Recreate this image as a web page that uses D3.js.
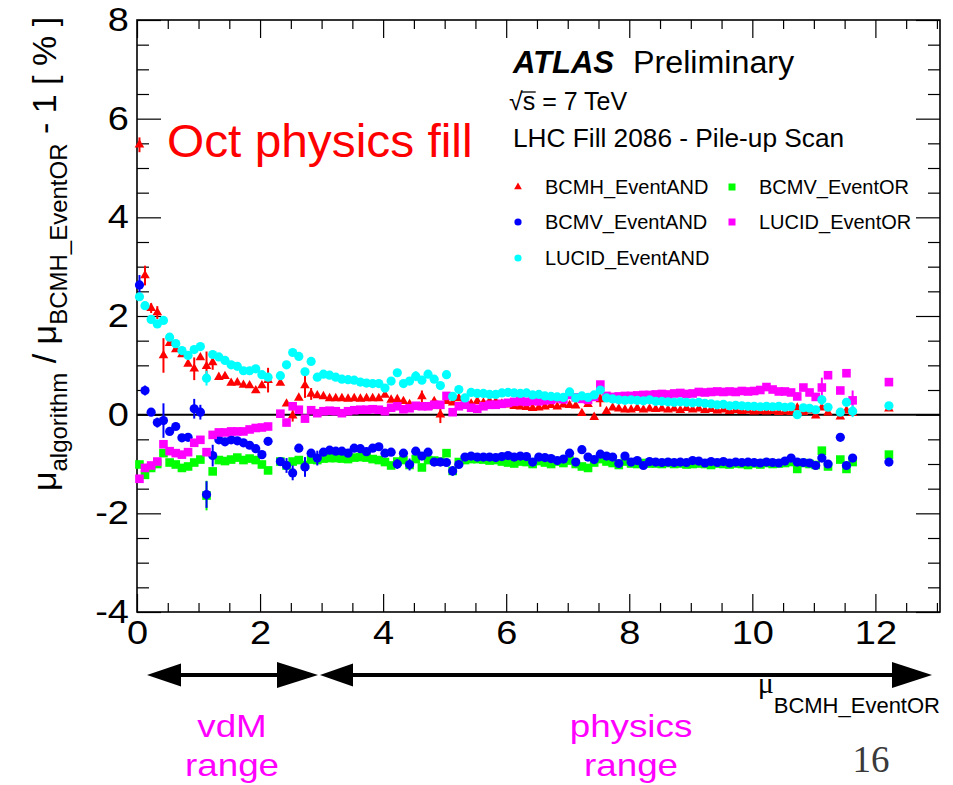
<!DOCTYPE html>
<html><head><meta charset="utf-8">
<script src="https://cdn.jsdelivr.net/npm/d3@7"></script>
<style>
body{margin:0;background:#fff}
svg{display:block}
text{font-family:"Liberation Sans",Arial,Helvetica,sans-serif}
</style>
</head><body>
<svg id="chart" width="953" height="785"></svg>
<script>
// ---------------- data ----------------
const muValues = [
 0.04,0.13,0.23,0.33,0.43,0.53,0.63,0.73,0.83,0.93,1.03,1.13,1.23,1.33,1.43,1.53,1.63,1.73,1.83,1.93,2.03,2.13,
 2.33,2.43,2.53,2.63,2.73,2.83,2.93,3.03,3.13,3.23,
 3.33,3.43,3.53,3.63,3.73,3.83,3.93,4.03,4.13,4.23,
 4.33,4.43,4.53,4.63,4.73,4.83,4.93,5.03,5.13,5.23,
 5.33,5.43,5.53,5.63,5.73,5.83,5.93,6.03,6.13,6.23,
 6.33,6.43,6.53,6.63,6.73,6.83,6.93,7.03,7.13,7.23,
 7.33,7.43,7.53,7.63,7.73,7.83,7.93,8.03,8.13,8.23,
 8.33,8.43,8.53,8.63,8.73,8.83,8.93,9.03,9.13,9.23,
 9.33,9.43,9.53,9.63,9.73,9.83,9.93,10.03,10.13,10.23,
 10.33,10.43,10.53,10.63,10.73,10.83,10.93,11.03,11.13,11.23,
 11.43,11.53,11.63,12.22
];
const bcmhEventAND = [
 5.47,2.82,2.16,2.07,1.20,1.45,1.32,1.22,1.03,0.93,1.16,0.98,1.06,0.76,0.78,0.64,0.65,0.60,0.59,0.49,0.59,0.70,
 0.64,0.22,-0.02,0.34,0.59,0.42,0.39,0.37,0.33,0.33,
 0.33,0.32,0.33,0.32,0.33,0.33,0.33,0.40,0.30,0.31,
 0.27,0.21,0.15,0.37,0.15,0.27,0.00,0.27,0.24,0.33,
 0.22,0.22,0.27,0.24,0.27,0.26,0.22,0.20,0.17,0.16,
 0.15,0.13,0.14,0.16,0.19,0.16,0.20,0.19,0.18,0.03,
 0.21,-0.05,0.31,0.07,0.14,0.12,0.10,0.10,0.13,0.10,
 0.12,0.11,0.12,0.10,0.12,0.09,0.13,0.10,0.12,0.09,
 0.11,0.08,0.10,0.07,0.09,0.07,0.08,0.06,0.07,0.06,
 0.07,0.05,0.06,0.05,0.14,0.05,0.08,-0.02,0.14,0.04,
 -0.04,0.08,0.03,0.12
];
const bcmvEventAND = [
 2.63,0.49,0.05,-0.16,-0.12,-0.34,-0.24,-0.47,-0.46,0.12,0.05,-1.62,-0.83,-0.51,-0.55,-0.51,-0.53,-0.57,-0.62,-0.69,-0.81,-0.54,
 -0.95,-1.03,-1.18,-0.68,-1.06,-0.78,-0.88,-0.76,-0.72,-0.74,
 -0.74,-0.78,-0.68,-0.69,-0.75,-0.68,-0.65,-0.78,-0.76,-1.00,
 -0.78,-1.01,-0.74,-0.84,-0.76,-0.96,-0.96,-0.97,-1.14,-1.01,
 -0.86,-0.84,-0.86,-0.86,-0.86,-0.87,-0.85,-0.83,-0.86,-0.84,
 -0.85,-0.96,-0.86,-0.87,-0.89,-0.93,-0.90,-0.78,-0.96,-0.71,
 -0.86,-0.91,-0.80,-0.84,-0.86,-0.99,-0.84,-0.96,-0.93,-1.03,
 -0.95,-0.96,-0.97,-0.96,-0.97,-0.96,-0.97,-0.93,-0.94,-0.98,
 -0.95,-0.97,-0.95,-0.98,-0.96,-0.97,-0.96,-0.97,-0.98,-0.96,
 -0.97,-0.98,-0.94,-0.88,-0.96,-0.97,-0.98,-1.03,-0.88,-1.00,
 -0.46,-1.03,-0.88,-0.96
];
const lucidEventAND = [
 2.39,2.21,1.93,1.84,1.91,1.57,1.44,1.30,1.20,1.32,1.38,0.74,1.22,1.17,1.10,1.01,0.98,0.89,0.89,0.93,0.81,0.76,
 0.79,1.01,1.26,1.18,0.87,1.08,0.76,0.82,0.80,0.76,
 0.72,0.71,0.70,0.66,0.64,0.63,0.63,0.54,0.68,0.85,
 0.63,0.68,0.78,0.70,0.82,0.72,0.59,0.81,0.37,0.51,
 0.34,0.45,0.43,0.43,0.41,0.41,0.44,0.45,0.44,0.43,
 0.44,0.40,0.41,0.38,0.37,0.36,0.35,0.46,0.34,0.38,
 0.35,0.40,0.50,0.34,0.32,0.30,0.29,0.30,0.29,0.28,
 0.30,0.27,0.27,0.26,0.25,0.26,0.25,0.24,0.25,0.23,
 0.22,0.20,0.21,0.18,0.19,0.18,0.17,0.17,0.16,0.17,
 0.16,0.17,0.15,0.16,0.00,0.14,0.13,0.10,0.30,0.15,
 0.05,0.25,0.07,0.18
];
const bcmvEventOR = [
 -1.01,-1.22,-1.08,-1.00,-0.78,-0.97,-1.01,-1.08,-1.05,-0.97,-0.91,-1.64,-1.15,-0.92,-0.94,-0.91,-0.87,-0.92,-0.89,-0.92,-1.01,-1.13,
 -0.95,-1.03,-0.95,-0.92,-1.02,-0.91,-0.92,-0.89,-0.88,-0.88,
 -0.89,-0.90,-0.87,-0.86,-0.87,-0.90,-0.92,-0.96,-1.03,-0.95,
 -0.92,-1.02,-0.90,-1.07,-0.92,-0.93,-0.95,-0.78,-1.14,-0.96,
 -0.92,-0.90,-0.90,-0.91,-0.93,-0.92,-0.95,-0.97,-0.99,-0.95,
 -0.96,-1.00,-0.94,-0.97,-1.00,-0.95,-0.98,-0.93,-1.00,-1.05,
 -1.08,-0.97,-0.90,-0.95,-0.98,-1.02,-0.95,-0.99,-1.00,-0.98,
 -0.99,-0.99,-1.00,-0.98,-1.00,-0.99,-1.01,-1.00,-0.99,-1.00,
 -1.02,-0.99,-1.00,-1.01,-0.99,-1.00,-1.02,-0.99,-1.01,-0.98,
 -1.00,-0.99,-0.98,-0.96,-1.10,-0.98,-1.00,-1.02,-0.73,-1.05,
 -0.91,-1.10,-0.96,-0.81
];
const lucidEventOR = [
 -1.30,-1.08,-1.03,-0.95,-0.60,-0.74,-0.78,-0.81,-0.76,-0.57,-0.51,-0.76,-0.41,-0.36,-0.36,-0.34,-0.34,-0.34,-0.30,-0.27,-0.26,-0.24,
 0.02,-0.16,0.17,0.10,-0.08,0.09,0.03,0.07,0.08,0.07,
 0.03,0.07,0.09,0.10,0.10,0.11,0.10,0.07,0.14,0.17,
 0.11,0.13,0.18,0.17,0.17,0.20,0.20,0.38,0.05,0.17,
 0.20,0.14,0.12,0.17,0.20,0.20,0.22,0.24,0.26,0.27,
 0.26,0.28,0.27,0.29,0.30,0.33,0.31,0.40,0.35,0.32,
 0.30,0.36,0.61,0.38,0.36,0.37,0.38,0.38,0.39,0.40,
 0.40,0.41,0.42,0.41,0.43,0.44,0.42,0.43,0.46,0.45,
 0.46,0.47,0.46,0.47,0.46,0.48,0.47,0.48,0.50,0.56,
 0.51,0.47,0.47,0.45,0.37,0.55,0.45,0.36,0.55,0.80,
 0.49,0.84,0.29,0.66
];
// larger error bars: [point index, half-width in %]; others use defaultError
const bcmhEventANDErrors = [[0,0.15],[1,0.2],[2,0.1],[3,0.13],[4,0.35],[9,0.23],[11,0.3],[12,0.15],[21,0.25],[24,0.12],[26,0.25],[27,0.12],[45,0.12],[48,0.17],[74,0.15]];
const bcmvEventANDErrors = [[0,0.2],[1,0.1],[3,0.1],[4,0.35],[9,0.2],[10,0.15],[11,0.27],[12,0.22],[23,0.15],[24,0.15],[26,0.2],[28,0.15],[41,0.1],[43,0.12],[50,0.1]];
const lucidEventANDErrors = [[11,0.15],[44,0.1],[110,0.1],[114,0.12]];
const bcmvEventORErrors = [[11,0.3]];
const lucidEventORErrors = [[11,0.08],[110,0.2],[114,0.2]];
const defaultError = 0.04;

const xTickValues = [0,2,4,6,8,10,12];
const yTickValues = [-4,-2,0,2,4,6,8];
const seriesNames = ["BCMH_EventAND","BCMV_EventAND","LUCID_EventAND","BCMV_EventOR","LUCID_EventOR"];
const seriesColors = ["#ff0000","#0000ff","#00ffff","#00ff00","#ff00ff"];

// ---------------- chart ----------------
const svg = d3.select("#chart");
const L = 137, R = 940, T = 20, B = 612;
const x = d3.scaleLinear().domain([0, 13.05]).range([L, R]);
const y = d3.scaleLinear().domain([-4, 8]).range([B, T]);

const xMinor = d3.range(0, 13.05, 0.5).filter(v => !xTickValues.includes(v));
const yMinor = d3.range(-4, 8.01, 0.5).filter(v => !yTickValues.includes(v));
const fmt = d => String(d);

function axisG(axis, tx, ty) {
  const g = svg.append("g").attr("transform", `translate(${tx},${ty})`).call(axis);
  g.select(".domain").remove();
  g.selectAll("line").attr("stroke", "#000").attr("stroke-width", 1.2);
  return g;
}
// left
const gl = axisG(d3.axisLeft(y).tickValues(yTickValues).tickFormat(fmt).tickSizeInner(-24).tickSizeOuter(0).tickPadding(7), L, 0);
gl.selectAll("text").style("font-size", "33px").attr("fill", "#000").attr("transform", "scale(1.15,1)");
axisG(d3.axisLeft(y).tickValues(yMinor).tickFormat("").tickSizeInner(-12).tickSizeOuter(0), L, 0);
// right
axisG(d3.axisRight(y).tickValues(yTickValues).tickFormat("").tickSizeInner(-24).tickSizeOuter(0), R, 0);
axisG(d3.axisRight(y).tickValues(yMinor).tickFormat("").tickSizeInner(-12).tickSizeOuter(0), R, 0);
// bottom
const gb = axisG(d3.axisBottom(x).tickValues(xTickValues).tickFormat(fmt).tickSizeInner(-18).tickSizeOuter(0).tickPadding(9), 0, B);
gb.selectAll("text").style("font-size", "33px").attr("fill", "#000").attr("transform", "scale(1.15,1)");
axisG(d3.axisBottom(x).tickValues(xMinor).tickFormat("").tickSizeInner(-9).tickSizeOuter(0), 0, B);
// top
axisG(d3.axisTop(x).tickValues(xTickValues).tickFormat("").tickSizeInner(-18).tickSizeOuter(0), 0, T);
axisG(d3.axisTop(x).tickValues(xMinor).tickFormat("").tickSizeInner(-9).tickSizeOuter(0), 0, T);

// frame
svg.append("rect").attr("x", L).attr("y", T).attr("width", R - L).attr("height", B - T)
  .attr("fill", "none").attr("stroke", "#000").attr("stroke-width", 1.6);
// zero line
svg.append("line").attr("x1", x(0)).attr("x2", R).attr("y1", y(0)).attr("y2", y(0))
  .attr("stroke", "#000").attr("stroke-width", 2);

// series
const seriesData = [bcmhEventAND, bcmvEventAND, lucidEventAND, bcmvEventOR, lucidEventOR];
const seriesErrors = [bcmhEventANDErrors, bcmvEventANDErrors, lucidEventANDErrors, bcmvEventORErrors, lucidEventORErrors];
const shapes = ["triangle","circle","circle","square","square"];
const drawOrder = [0, 3, 1, 4, 2];

const plot = svg.append("g");
drawOrder.forEach(si => {
  const errMap = new Map(seriesErrors[si]);
  const pts = muValues.map((m, i) => ({x: m, y: seriesData[si][i], e: errMap.has(i) ? errMap.get(i) : defaultError}));
  const g = plot.append("g");
  g.selectAll("line.err").data(pts).join("line")
    .attr("x1", d => x(d.x)).attr("x2", d => x(d.x))
    .attr("y1", d => y(d.y - d.e)).attr("y2", d => y(d.y + d.e))
    .attr("stroke", seriesColors[si]).attr("stroke-width", 2);
  const col = seriesColors[si];
  if (shapes[si] === "circle") {
    g.selectAll("circle").data(pts).join("circle")
      .attr("cx", d => x(d.x)).attr("cy", d => y(d.y)).attr("r", 4.6).attr("fill", col);
  } else if (shapes[si] === "square") {
    g.selectAll("rect").data(pts).join("rect")
      .attr("x", d => x(d.x) - 4.3).attr("y", d => y(d.y) - 4.3)
      .attr("width", 8.6).attr("height", 8.6).attr("fill", col);
  } else {
    const tri = d3.symbol().type(d3.symbolTriangle).size(40);
    g.selectAll("path").data(pts).join("path")
      .attr("transform", d => `translate(${x(d.x)},${y(d.y)})`).attr("d", tri).attr("fill", col);
  }
});

// ---------------- texts ----------------
function txt(tx, ty, s, opts = {}) {
  const t = svg.append("text")
    .attr("transform", `translate(${tx},${ty}) scale(${opts.sx || 1},1)`)
    .attr("text-anchor", opts.anchor || "start")
    .style("font-size", (opts.size || 20) + "px")
    .attr("fill", opts.color || "#000")
    .text(s);
  if (opts.weight) t.style("font-weight", opts.weight);
  if (opts.style) t.style("font-style", opts.style);
  if (opts.family) t.style("font-family", opts.family);
  return t;
}

// y title
const yt = svg.append("text").attr("transform", "translate(56,254) rotate(-90)")
  .attr("text-anchor", "middle").style("font-size", "34px").attr("fill", "#000");
yt.append("tspan").text("μ");
yt.append("tspan").attr("dy", 11).style("font-size", "24px").text("algorithm");
yt.append("tspan").attr("dy", -11).text(" / μ");
yt.append("tspan").attr("dy", 11).style("font-size", "24px").text("BCMH_EventOR");
yt.append("tspan").attr("dy", -11).text(" - 1 [ % ]");

// x title
const xt = svg.append("text").attr("x", 940).attr("y", 693).attr("text-anchor", "end").attr("fill", "#000");
xt.append("tspan").style("font-size", "30px").style("font-family", "'Liberation Serif',serif").text("μ");
xt.append("tspan").attr("dy", 20).style("font-size", "22px").text("BCMH_EventOR");

// header texts
txt(513, 73, "ATLAS", {size: 31, weight: "bold", style: "italic"});
txt(633, 73, "Preliminary", {size: 31, sx: 1.04});
const sq = txt(509, 110, "√", {size: 25});
const sqW = sq.node().getComputedTextLength();
txt(509 + sqW, 110, "s = 7 TeV", {size: 25});
svg.append("line").attr("x1", 509 + sqW - 1).attr("x2", 509 + sqW + 13)
  .attr("y1", 92).attr("y2", 92).attr("stroke", "#000").attr("stroke-width", 1.3);
txt(513, 147, "LHC Fill 2086 - Pile-up Scan", {size: 25, sx: 1.05});

// legend
const legendPos = [[518,187,545,194],[518,222,545,229],[518,258,545,265],[732,187,759,194],[732,222,759,229]];
seriesNames.forEach((name, si) => {
  const [mx, my, tx, ty] = legendPos[si];
  const col = seriesColors[si];
  if (shapes[si] === "circle") svg.append("circle").attr("cx", mx).attr("cy", my).attr("r", 3.6).attr("fill", col);
  else if (shapes[si] === "square") svg.append("rect").attr("x", mx - 3.5).attr("y", my - 3.5).attr("width", 7).attr("height", 7).attr("fill", col);
  else svg.append("path").attr("transform", `translate(${mx},${my})`).attr("d", d3.symbol().type(d3.symbolTriangle).size(26)).attr("fill", col);
  txt(tx, ty, name, {size: 20});
});

// annotation
txt(167, 157, "Oct physics fill", {size: 46, sx: 1.04, color: "#ff0000"});

// range arrows
const ay = 675;
function arrowHead(tip, base, half) {
  svg.append("path").attr("d", `M${tip},${ay} L${base},${ay - half} L${base},${ay + half} Z`).attr("fill", "#000");
}
svg.append("line").attr("x1", 160).attr("x2", 300).attr("y1", ay).attr("y2", ay).attr("stroke", "#000").attr("stroke-width", 4);
arrowHead(147, 181, 11.5);
arrowHead(318, 277, 13);
svg.append("line").attr("x1", 335).attr("x2", 905).attr("y1", ay).attr("y2", ay).attr("stroke", "#000").attr("stroke-width", 4);
arrowHead(320, 353, 11.5);
arrowHead(932, 892, 13);

// range labels
txt(232, 737, "vdM", {size: 32, sx: 1.15, anchor: "middle", color: "#ff00ff"});
txt(232, 776, "range", {size: 32, sx: 1.15, anchor: "middle", color: "#ff00ff"});
txt(631, 737, "physics", {size: 32, sx: 1.15, anchor: "middle", color: "#ff00ff"});
txt(631, 776, "range", {size: 32, sx: 1.15, anchor: "middle", color: "#ff00ff"});
txt(871, 772, "16", {size: 37, anchor: "middle", color: "#3a3a3a", family: "'Liberation Serif',serif"});
</script>
</body></html>
